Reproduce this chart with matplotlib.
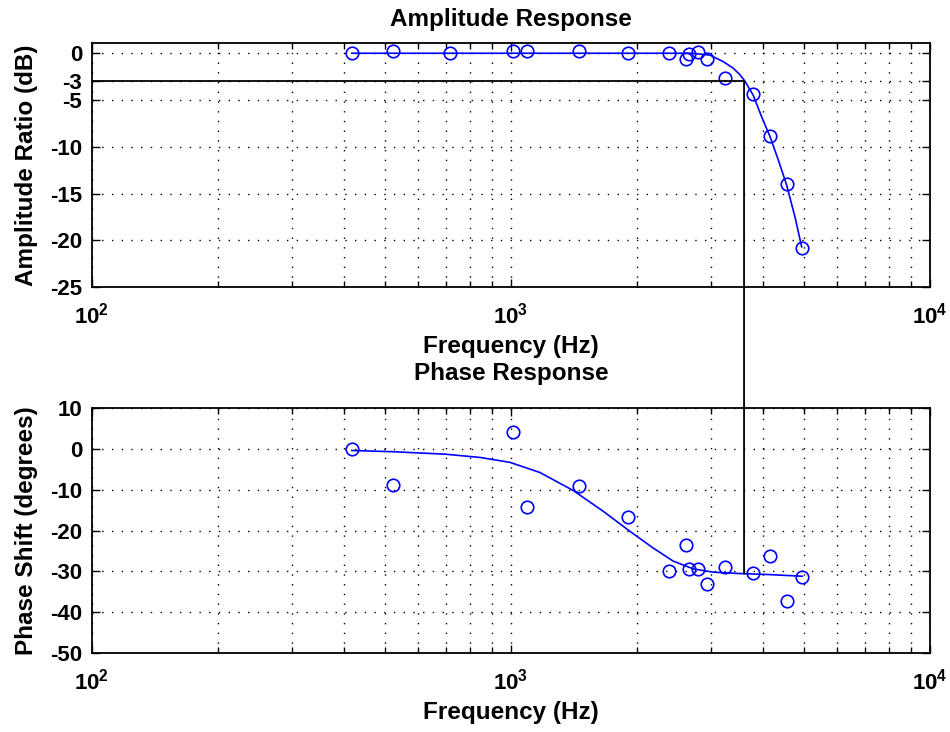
import numpy as np
import matplotlib
matplotlib.use('Agg')
import matplotlib.pyplot as plt
from matplotlib.patches import ConnectionPatch
from matplotlib.ticker import FixedLocator, LogLocator, FuncFormatter, NullFormatter

plt.rcParams['font.family'] = ['Liberation Sans', 'DejaVu Sans']
plt.rcParams['font.weight'] = 'bold'
plt.rcParams['axes.labelweight'] = 'bold'
plt.rcParams['axes.titleweight'] = 'bold'
plt.rcParams['axes.unicode_minus'] = False
plt.rcParams['mathtext.fontset'] = 'custom'
plt.rcParams['mathtext.rm'] = 'Liberation Sans:bold'
plt.rcParams['mathtext.bf'] = 'Liberation Sans:bold'
plt.rcParams['mathtext.it'] = 'Liberation Sans:bold'

# measured points (Hz, dB, degrees)
freq = [417, 524, 715, 1013, 1090, 1453, 1899, 2384, 2612, 2664, 2790, 2931,
        3241, 3786, 4151, 4564, 4957]
amp_db = [0, 0.25, 0, 0.25, 0.25, 0.25, 0, 0, -0.6, -0.1, 0.1, -0.6,
          -2.6, -4.4, -8.8, -14.0, -20.8]
phase_deg = [0, -8.8, np.nan, 4.1, -14.2, -9.2, -16.8, -30.0, -23.5, -29.5, -29.5, -33.2,
             -29.0, -30.5, -26.3, -37.3, -31.5]

# fitted curves
amp_fit_freq = [417, 1000, 2000, 2700, 2985, 3211, 3393, 3520, 3619, 3787, 3966,
                4151, 4345, 4550, 4762, 4941]
amp_fit_db = [0, 0, 0, 0, -0.2, -0.9, -1.6, -2.3, -3.0, -4.5, -6.8,
              -8.9, -11.4, -14.1, -17.5, -20.7]
phase_fit_freq = [417, 523, 696, 843, 994, 1173, 1408, 1661, 1923, 2186, 2440,
                  2724, 3039, 3457, 4151, 4957]
phase_fit_deg = [-0.4, -0.7, -1.3, -2.1, -3.3, -5.8, -10.2, -15.3, -20.2, -24.3, -27.5,
                 -29.4, -30.2, -30.5, -30.8, -31.2]

# -3 dB cutoff
fc = 3600
fc_db = -3
fc_phase = -30.6

amp_ticks = [-25, -20, -15, -10, -5, -3, 0]
amp_ylim = (-25, 1.1)
phase_ticks = [-50, -40, -30, -20, -10, 0, 10]
phase_ylim = (-50, 10)

fig = plt.figure(figsize=(9.5, 7.32), dpi=100)
ax1 = fig.add_axes([0.0968, 0.6079, 0.8821, 0.3334])
ax2 = fig.add_axes([0.0968, 0.1079, 0.8821, 0.3347])


def style(ax, yticks, ylim):
    ax.set_xscale('log')
    ax.set_xlim(100, 10000)
    ax.set_ylim(*ylim)
    ax.set_yticks(yticks)
    ax.xaxis.set_major_locator(FixedLocator([1e2, 1e3, 1e4]))
    ax.xaxis.set_minor_locator(LogLocator(base=10, subs=np.arange(2, 10)))
    ax.xaxis.set_minor_formatter(NullFormatter())
    ax.xaxis.set_major_formatter(
        FuncFormatter(lambda v, p: r'$\mathbf{10^{%d}}$' % round(np.log10(v))))
    ax.tick_params(which='both', direction='in', top=True, right=True,
                   labelsize=16, width=1)
    ax.tick_params(which='major', length=6)
    ax.tick_params(which='minor', length=4)
    ax.tick_params(axis='x', pad=11)
    ax.tick_params(axis='y', pad=7)
    ax.grid(True, which='major', color='k', linestyle=(0, (1, 6)), linewidth=1.0)
    ax.grid(True, which='minor', axis='x', color='k', linestyle=(0, (1, 6)), linewidth=1.0)
    for s in ax.spines.values():
        s.set_linewidth(1.3)
    ax.set_xlabel('Frequency (Hz)', fontsize=17.5, labelpad=5)


style(ax1, amp_ticks, amp_ylim)
style(ax2, phase_ticks, phase_ylim)

ax1.plot(amp_fit_freq, amp_fit_db, color='#0000ff', lw=1.2)
ax1.plot(freq, amp_db, 'o', mfc='none', mec='#0000ff', ms=9, mew=1.2)
ax1.hlines(fc_db, 100, fc, color='k', lw=1.3)
ax1.set_title('Amplitude Response', fontsize=17.5, pad=12)
ax1.set_ylabel('Amplitude Ratio (dB)', fontsize=17.5, labelpad=9)

ax2.plot(phase_fit_freq, phase_fit_deg, color='#0000ff', lw=1.2)
ax2.plot(freq, phase_deg, 'o', mfc='none', mec='#0000ff', ms=9, mew=1.2)
ax2.set_title('Phase Response', fontsize=17.5, pad=20)
ax2.set_ylabel('Phase Shift (degrees)', fontsize=17.5, labelpad=9)

con = ConnectionPatch(xyA=(fc, fc_db), coordsA=ax1.transData,
                      xyB=(fc, fc_phase), coordsB=ax2.transData,
                      color='k', lw=1.3)
fig.add_artist(con)

fig.savefig('out.png', dpi=100)
